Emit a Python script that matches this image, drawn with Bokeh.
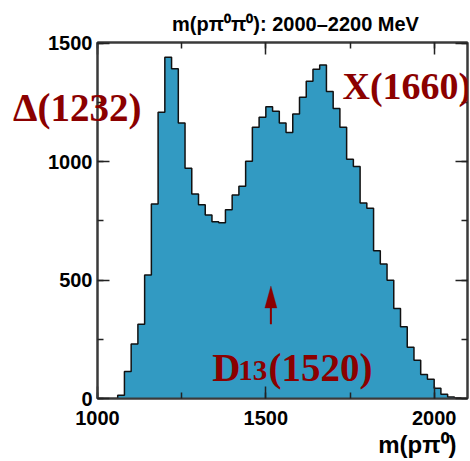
import numpy as np
from bokeh.plotting import figure
from bokeh.models import (Range1d, LinearAxis, SingleIntervalTicker, FixedTicker,
                          Label, PolyAnnotation, Arrow)
from bokeh.embed import file_html
from bokeh.resources import INLINE

# ---- data ----
bin_start = 1060
bin_width = 20
counts = [14, 114, 230, 314, 521, 821, 1208, 1441, 1392, 1163,
          972, 863, 818, 775, 746, 742, 797, 859, 896, 1002,
          1145, 1187, 1232, 1213, 1163, 1123, 1201, 1272, 1339, 1390,
          1408, 1296, 1224, 1145, 1010, 980, 825, 803, 624, 568,
          499, 380, 303, 216, 162, 101, 81, 43, 18, 6,
          2]
title_text = "m(pπ⁰π⁰): 2000–2200 MeV"
x_title = "m(pπ⁰)"
peak_labels = ["Δ(1232)", "X(1660)"]
d13_parts = ["D", "13", "(1520)"]

edges = bin_start + bin_width * np.arange(len(counts) + 1)
cnt = np.array(counts, dtype=float)

FILL = "#329ac2"
RED = "#8b0000"
FRAME = "#3a3a3a"

p = figure(width=470, height=461, output_backend="svg", toolbar_location=None,
           x_range=Range1d(1000, 2099), y_range=Range1d(0, 1503),
           min_border_left=97, min_border_right=3, min_border_top=42,
           min_border_bottom=63, x_axis_location=None, y_axis_location=None)
p.grid.visible = False
p.background_fill_color = "white"
p.border_fill_color = "white"
p.outline_line_color = FRAME
p.outline_line_width = 2

xp = np.repeat(edges, 2)
yp = np.concatenate([[0], np.repeat(cnt, 2), [0]])
p.patch(xp, yp, fill_color=FILL, line_color=None)
p.line(xp, yp, line_color="#111111", line_width=1.5)


def style_axis(ax, show_labels, standoff):
    ax.ticker = SingleIntervalTicker(interval=500, num_minor_ticks=2)
    ax.axis_line_color = FRAME
    ax.axis_line_width = 2
    ax.major_tick_in = 12
    ax.major_tick_out = 0
    ax.minor_tick_in = 6
    ax.minor_tick_out = 0
    ax.major_tick_line_color = "#222222"
    ax.minor_tick_line_color = "#222222"
    ax.major_tick_line_width = 1.5
    ax.minor_tick_line_width = 1.5
    if show_labels:
        ax.major_label_text_font = "Liberation Sans"
        ax.major_label_text_font_style = "bold"
        ax.major_label_text_font_size = "20px"
        ax.major_label_text_color = "black"
        ax.major_label_standoff = standoff
    else:
        ax.major_label_text_font_size = "1px"
        ax.major_label_text_color = None
        ax.major_label_standoff = 0


def text_axis(pos, text, font, size, color, standoff):
    ax = LinearAxis(ticker=FixedTicker(ticks=[pos], minor_ticks=[]))
    ax.major_label_overrides = {pos: text}
    ax.axis_line_color = None
    ax.major_tick_line_color = None
    ax.minor_tick_line_color = None
    ax.major_tick_out = 0
    ax.major_tick_in = 0
    ax.major_label_text_font = font
    ax.major_label_text_font_style = "bold"
    ax.major_label_text_font_size = size
    ax.major_label_text_color = color
    ax.major_label_standoff = standoff
    return ax


xb = LinearAxis()
style_axis(xb, True, 12)
p.add_layout(xb, "below")
yl = LinearAxis()
style_axis(yl, True, 5)
p.add_layout(yl, "left")
xt = LinearAxis()
style_axis(xt, False, 0)
p.add_layout(xt, "above")
yr = LinearAxis()
style_axis(yr, False, 0)
p.add_layout(yr, "right")

# texts outside the frame, carried by label-only axes
p.add_layout(text_axis(1588, title_text, "Liberation Sans", "20px", "black", 8), "above")
p.add_layout(text_axis(1950, x_title, "Liberation Sans", "24px", "black", 3), "below")
p.add_layout(text_axis(1228, peak_labels[0], "Liberation Serif", "39px", RED, -96), "left")

serif = dict(text_font="Liberation Serif", text_font_style="bold",
             text_color=RED, text_align="left", text_baseline="alphabetic")
p.add_layout(Label(x=245, y=313, x_units="screen", y_units="screen",
                   text=peak_labels[1], text_font_size="38px", **serif))

# ---- D13(1520) inside the frame ----
p.add_layout(Label(x=1341, y=131, text=d13_parts[0], text_font_size="39px", **serif))
p.add_layout(Label(x=1418, y=117, text=d13_parts[1], text_font_size="29px", **serif))
p.add_layout(Label(x=1508, y=131, text=d13_parts[2], text_font_size="39px", **serif))

# arrow marking D13(1520)
p.add_layout(Arrow(x_start=1515, y_start=314, x_end=1515, y_end=385, end=None,
                   line_color=RED, line_width=2))
p.add_layout(PolyAnnotation(xs=[1497, 1533, 1515], ys=[382, 382, 475],
                            fill_color=RED, fill_alpha=1, line_color=RED,
                            line_width=1))

open("out.html", "w").write(file_html(p, INLINE))
